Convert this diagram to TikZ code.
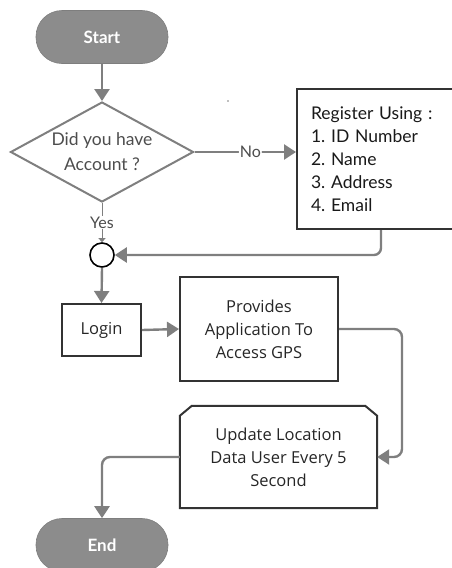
\documentclass[tikz,border=0pt]{standalone}
\usepackage{fontspec}
\setmainfont{Lato}
\newfontfamily\osans{Open Sans}
\usetikzlibrary{arrows.meta,shapes.geometric,calc}
\definecolor{pillgray}{HTML}{8C8C8C}
\definecolor{arrgray}{HTML}{7F7F7F}
\definecolor{dkline}{HTML}{333333}
\definecolor{txtgray}{HTML}{4D4D4D}
\tikzset{
  pill/.style={fill=pillgray, draw=pillgray!90!black, line width=0.6pt, minimum width=132pt, minimum height=53pt, rounded corners=26pt, text=white, font=\fontsize{17}{19}\selectfont\bfseries},
  boxnode/.style={draw=dkline, line width=2pt, align=center, text=black!85, font=\osans\fontsize{16.5}{23}\selectfont},
  arr/.style={draw=arrgray, line width=2.4pt, -{Triangle[width=15pt,length=12pt]}, rounded corners=7pt},
  lbl/.style={fill=white, text=txtgray, inner sep=1pt, font=\fontsize{16}{18}\selectfont}
}
\begin{document}
\frenchspacing
\begin{tikzpicture}[x=1pt,y=-1pt]
\useasboundingbox (0,0) rectangle (451,568);
\node (start) [pill] at (102,37) {Start};
\node (dia) [diamond, draw=arrgray, line width=2pt, inner sep=0pt, minimum width=183pt, minimum height=100pt,
  label={[align=center, text=txtgray, font=\fontsize{17.5}{25}\selectfont]center:Did you have\\Account ?}] at (102,152) {};
\node (reg) [draw=dkline, line width=2pt, anchor=north west, minimum height=140pt, text width=135pt, inner xsep=14pt, align=left, text=black!90, font=\fontsize{17.5}{23}\selectfont] at (296,88) {Register Using :\\1. ID Number\\2. Name\\3. Address\\4. Email};
\node (circ) [circle, draw=black, line width=1.6pt, minimum size=24pt, inner sep=0pt] at (102,255) {};
\node (login) [boxnode, minimum width=79pt, minimum height=52pt] at (101.5,330) {Login};
\node (prov) [boxnode, minimum width=158pt, minimum height=104pt] at (259,329) {Provides\\Application To\\Access GPS};
\node (upd) [align=center, text=black!85, font=\osans\fontsize{16.5}{23}\selectfont, minimum width=197pt, minimum height=102pt, inner sep=0pt] at (278.5,457) {Update Location\\Data User Every 5\\Second};
\draw[dkline, line width=2pt, line join=miter] (upd.south west) -- ([yshift=-10pt]upd.north west) -- ([xshift=12pt]upd.north west) -- ([xshift=-12pt]upd.north east) -- ([yshift=-10pt]upd.north east) -- (upd.south east) -- cycle;
\node (end) [pill] at (102,545) {End};
\fill[arrgray] (228,101) circle (0.9pt);
% connectors
\draw[arr] (start.south) -- (dia.north);
\draw[arr] (dia.east) -- node[lbl, pos=0.55] {No} (dia.east -| reg.west);
\draw[draw=arrgray, line width=1pt, -{Triangle[width=7pt,length=4pt]}] (dia.south) -- node[lbl, pos=0.5] {Yes} (circ.north);
\draw[arr] ([xshift=2.5pt]reg.south) |- (circ.east);
\draw[arr] (circ.south) -- (login.north);
\draw[arr] (login.east) -- (prov.west);
\draw[arr, rounded corners=8pt] (prov.east) -- (402,329) |- (upd.east);
\draw[arr, rounded corners=8pt] (upd.west) -| (end.north);
\end{tikzpicture}
\end{document}
